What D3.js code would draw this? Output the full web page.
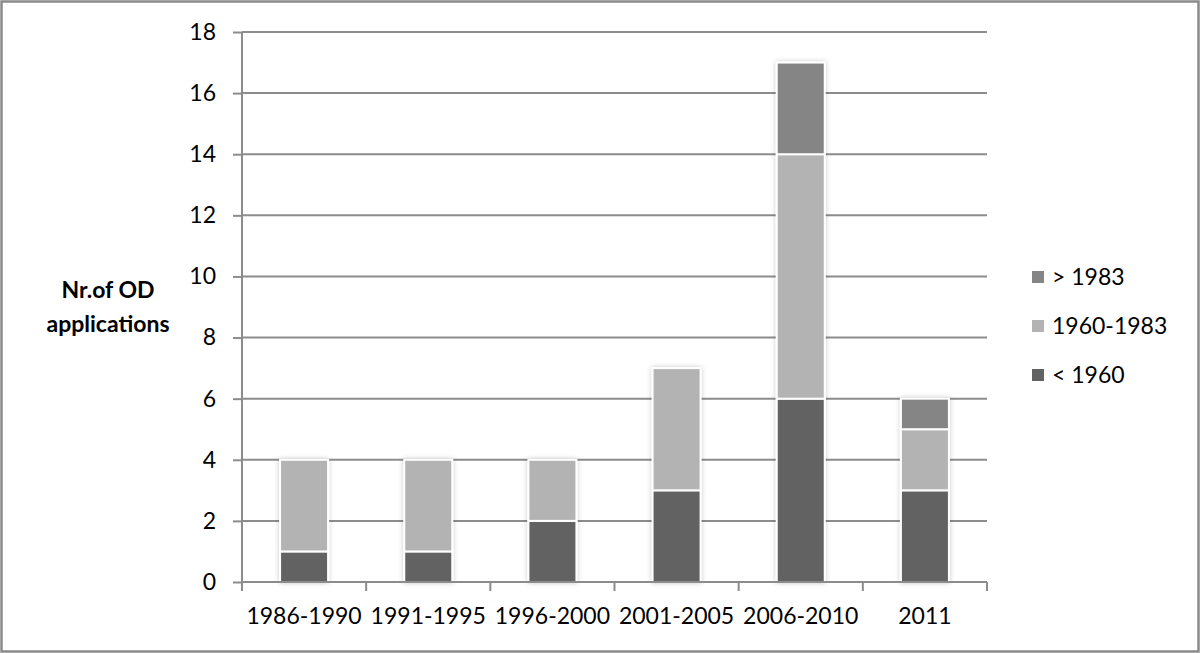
<!DOCTYPE html>
<html>
<head>
<meta charset="utf-8">
<script src="https://cdn.jsdelivr.net/npm/d3@7"></script>
<style>
  body { margin: 0; background: #fff; }
  svg { display: block; font-family: Lato, "Open Sans", sans-serif; }
</style>
</head>
<body>
<div id="chart"></div>
<script>

var categories = ["1986-1990", "1991-1995", "1996-2000", "2001-2005", "2006-2010", "2011"];
var seriesNames = ["< 1960", "1960-1983", "> 1983"];
var before1960 = [1, 1, 2, 3, 6, 3];
var between = [3, 3, 2, 4, 8, 2];
var after1983 = [0, 0, 0, 0, 3, 1];
var yTicks = [0, 2, 4, 6, 8, 10, 12, 14, 16, 18];
var colors = ["#626262", "#b3b3b3", "#858585"];

var W = 1200, H = 653;
var margin = {top: 32, right: 213, bottom: 71, left: 242},
    width = W - margin.left - margin.right,
    height = H - margin.top - margin.bottom;

var svg = d3.select("#chart").append("svg")
    .attr("width", W)
    .attr("height", H);

// outer frame
svg.append("rect")
    .attr("x", 1.5).attr("y", 1.5)
    .attr("width", W - 3).attr("height", H - 3)
    .attr("fill", "#fff")
    .attr("stroke", "#8a8a8a")
    .attr("stroke-width", 2.5);

var defs = svg.append("defs");
var f = defs.append("filter").attr("id", "glow")
    .attr("x", "-30%").attr("y", "-10%").attr("width", "160%").attr("height", "120%");
f.append("feDropShadow")
    .attr("dx", 0).attr("dy", 0)
    .attr("stdDeviation", 2.5)
    .attr("flood-color", "#000")
    .attr("flood-opacity", 0.22);

var g = svg.append("g")
    .attr("transform", "translate(" + margin.left + "," + margin.top + ")");

var x = d3.scaleBand().domain(categories).range([0, width]);
var y = d3.scaleLinear().domain([0, 18]).range([height, 0]);

var rows = categories.map(function (c, i) {
    return {cat: c, "< 1960": before1960[i], "1960-1983": between[i], "> 1983": after1983[i]};
});
var stacked = d3.stack().keys(seriesNames)(rows);

// gridlines
g.append("g")
    .selectAll("line")
    .data(yTicks.filter(function (d) { return d > 0; }))
    .enter().append("line")
    .attr("x1", 0).attr("x2", width)
    .attr("y1", function (d) { return y(d); })
    .attr("y2", function (d) { return y(d); })
    .attr("stroke", "#8c8c8c")
    .attr("stroke-width", 2);

// y axis
var yAxis = g.append("g")
    .call(d3.axisLeft(y).tickValues(yTicks).tickSize(9).tickPadding(17));
yAxis.select(".domain").attr("stroke", "#8c8c8c").attr("stroke-width", 2)
    .attr("d", "M0," + height + "V0");
yAxis.selectAll(".tick line").attr("stroke", "#8c8c8c").attr("stroke-width", 2);
yAxis.selectAll("text").attr("font-size", 23).attr("fill", "#000")
    .attr("font-family", "Lato, sans-serif");

// bars
var barW = 48;
var bars = g.append("g").attr("filter", "url(#glow)");
stacked.forEach(function (layer, li) {
    bars.selectAll(".bar" + li)
        .data(layer.filter(function (d) { return d[1] - d[0] > 0; }))
        .enter().append("rect")
        .attr("class", "bar" + li)
        .attr("x", function (d) { return x(d.data.cat) + x.bandwidth() / 2 - barW / 2; })
        .attr("y", function (d) { return y(d[1]); })
        .attr("width", barW)
        .attr("height", function (d) { return y(d[0]) - y(d[1]); })
        .attr("fill", colors[li])
        .attr("stroke", "#fff")
        .attr("stroke-width", 2);
});

// x axis with ticks at category boundaries
var xAxis = g.append("g").attr("transform", "translate(0," + height + ")");
xAxis.append("line")
    .attr("x1", 0).attr("x2", width)
    .attr("stroke", "#8c8c8c").attr("stroke-width", 2);
var bounds = categories.map(function (c) { return x(c); }).concat([width]);
xAxis.selectAll(".xt")
    .data(bounds)
    .enter().append("line")
    .attr("class", "xt")
    .attr("x1", function (d) { return d; })
    .attr("x2", function (d) { return d; })
    .attr("y1", 0).attr("y2", 9)
    .attr("stroke", "#8c8c8c").attr("stroke-width", 2);
xAxis.selectAll(".xl")
    .data(categories)
    .enter().append("text")
    .attr("class", "xl")
    .attr("x", function (d) { return x(d) + x.bandwidth() / 2; })
    .attr("y", 42)
    .attr("text-anchor", "middle")
    .attr("font-size", 23)
    .attr("fill", "#000")
    .text(function (d) { return d; });

// y label
var yl = svg.append("text")
    .attr("text-anchor", "middle")
    .attr("font-size", 23)
    .attr("font-weight", "bold")
    .attr("fill", "#000");
yl.append("tspan").attr("x", 108).attr("y", 298).text("Nr.of OD");
yl.append("tspan").attr("x", 108).attr("y", 332).text("applications");

// legend
var legendOrder = [2, 1, 0];
var legend = svg.append("g").attr("transform", "translate(1032,0)");
legendOrder.forEach(function (si, i) {
    var cy = 277 + i * 49;
    legend.append("rect")
        .attr("x", 0).attr("y", cy - 6)
        .attr("width", 12).attr("height", 12)
        .attr("fill", colors[si]);
    legend.append("text")
        .attr("x", 20).attr("y", cy + 8)
        .attr("font-size", 23)
        .attr("fill", "#000")
        .text(seriesNames[si]);
});

</script>
</body>
</html>
